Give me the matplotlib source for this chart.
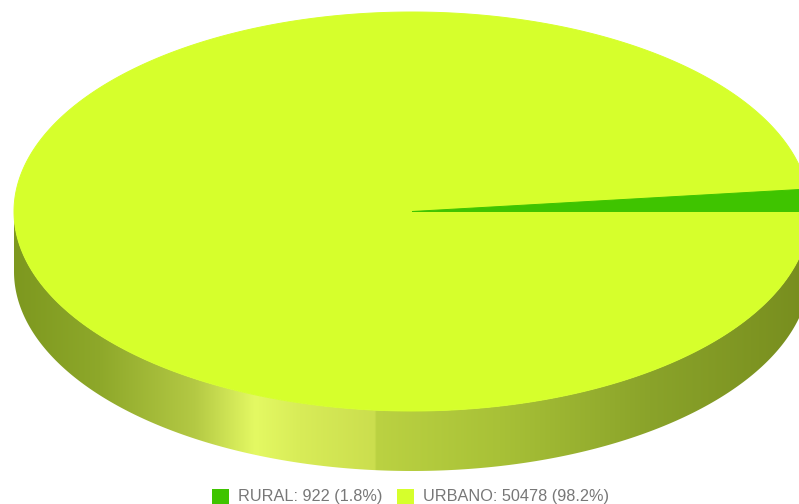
"""
Pie chart with a 3D-look rim: rural vs urban counts.
"""
import numpy as np
import matplotlib

matplotlib.use("Agg")
import matplotlib.pyplot as plt
from matplotlib.colors import LinearSegmentedColormap
from matplotlib.patches import PathPatch, Polygon, Rectangle
from matplotlib.path import Path

categories = ["RURAL", "URBANO"]
counts = [922, 50478]
percent_labels = ["1.8%", "98.2%"]
slice_colors = ["#3fc400", "#d6ff2c"]

# disc geometry in pixels
CX, CY = 412, 211.5
RX, RY = 398, 199.5
DEPTH = 60

plt.rcParams["font.family"] = ["Liberation Sans", "DejaVu Sans"]

fig = plt.figure(figsize=(7.99, 5.04), dpi=100)
ax = fig.add_axes([0, 0, 1, 1])


def arc_points(start, end, n=300):
    # points on the top ellipse, angles counter-clockwise from 3 o'clock
    t = np.linspace(start, end, n)
    return np.column_stack([CX + RX * np.cos(t), CY - RY * np.sin(t)])


# rim: lower half of the ellipse pushed down by DEPTH
lower = arc_points(np.pi, 2 * np.pi)
rim_verts = np.vstack([lower, (lower + [0, DEPTH])[::-1]])
rim = Polygon(rim_verts, closed=True, facecolor="none", edgecolor="none")
ax.add_patch(rim)

# horizontal shading along the rim, with the seam in the middle
stops_x = [14, 100, 195, 255, 300, 375, 376, 500, 650, 810]
stops_c = ["#7d981f", "#8ea82a", "#b4c944", "#e4f963", "#d8ec58", "#cbde4e",
           "#bbd242", "#a8c137", "#8aa32a", "#778d1e"]
span = stops_x[-1] - stops_x[0]
cmap = LinearSegmentedColormap.from_list(
    "rim", [((x - stops_x[0]) / span, c) for x, c in zip(stops_x, stops_c)], N=1024
)
shade = np.linspace(0, 1, 1024).reshape(1, -1)
img = ax.imshow(shade, cmap=cmap, aspect="auto",
                extent=[stops_x[0], stops_x[-1], 504, 0], zorder=1)
img.set_clip_path(rim)

# top face: wedges taken from the counts, first slice starts at 3 o'clock
total = sum(counts)
sweeps = [2 * np.pi * v / total for v in counts]
starts = [0.0, sweeps[0]]
for i in (1, 0):
    pts = arc_points(starts[i], starts[i] + sweeps[i], 600)
    verts = np.vstack([[CX, CY], pts, [CX, CY]])
    codes = [Path.MOVETO] + [Path.LINETO] * len(pts) + [Path.CLOSEPOLY]
    ax.add_patch(PathPatch(Path(verts, codes), facecolor=slice_colors[i],
                           edgecolor=slice_colors[i], linewidth=0.7, zorder=2))

# legend row
legend_swatch_x = [212, 397]
legend_text_x = [238, 423]
for i, name in enumerate(categories):
    ax.add_patch(Rectangle((legend_swatch_x[i], 489), 17, 15,
                           facecolor=slice_colors[i], edgecolor="none", zorder=3))
    ax.text(legend_text_x[i], 496.5, f"{name}: {counts[i]} ({percent_labels[i]})",
            fontsize=11.7, color="#777777", va="center", ha="left", zorder=3)

ax.set_xlim(0, 799)
ax.set_ylim(504, 0)
ax.axis("off")

fig.savefig("out.png", dpi=100, facecolor="white")
